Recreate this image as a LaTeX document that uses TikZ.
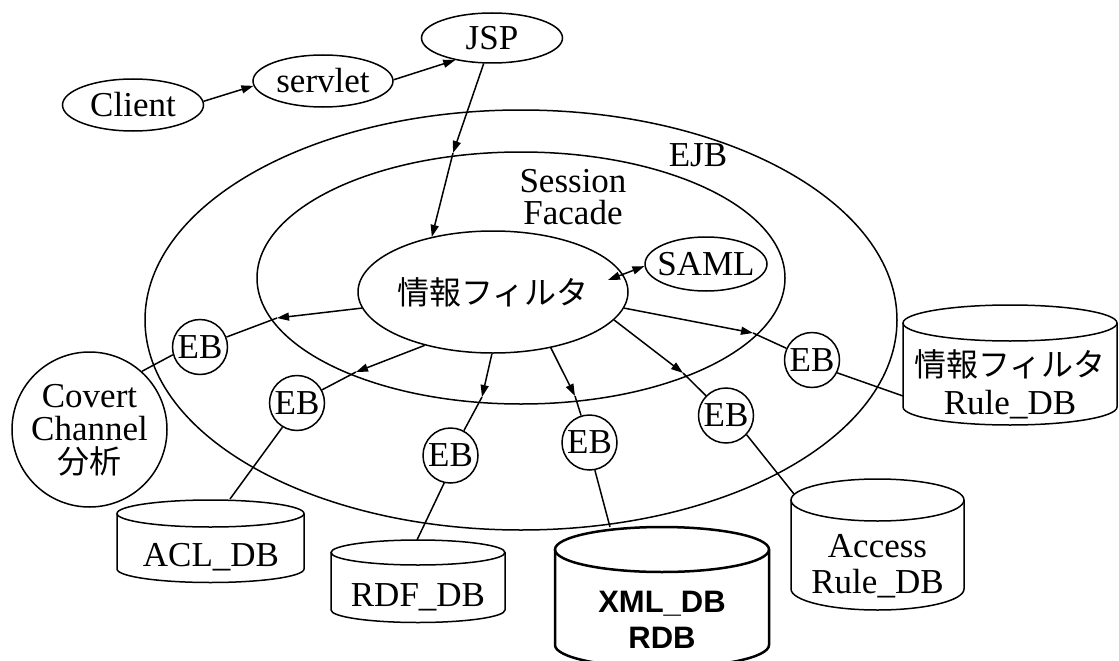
\documentclass[tikz,border=0pt]{standalone}
\usepackage{fontspec}
\setmainfont{Liberation Serif}
\newfontfamily\jpfont{Noto Sans CJK JP}
\newfontfamily\hvfont{Liberation Sans}
\usetikzlibrary{arrows.meta,shapes.geometric}

% cylinder outline: style, centre x, top-cap y, bottom-cap y, x radius, y radius
\newcommand\dbcylinder[6]{%
  \draw[#1] ({#2-#5},#3) -- ({#2-#5},#4)
    arc[start angle=180,end angle=360,x radius=#5pt,y radius=#6pt] -- ({#2+#5},#3);
  \draw[#1] (#2,#3) ellipse[x radius=#5pt,y radius=#6pt];}

\begin{document}
\begin{tikzpicture}[x=1pt,y=1pt,
  every node/.style={inner sep=0pt,font=\fontsize{35}{36}\selectfont},
  oval/.style={draw,ellipse,line width=1.5pt,inner sep=0pt},
  bean/.style={draw,circle,line width=1.5pt,minimum size=55pt,inner sep=0pt},
  wire/.style={line width=1.5pt},
  arr/.style={wire,-{Triangle[length=12pt,width=8pt]}},
  dblarr/.style={wire,{Triangle[length=12pt,width=8pt]}-{Triangle[length=12pt,width=8pt]}},
  dbline/.style={line width=1.5pt},
  dbthick/.style={line width=2.5pt},
]
\useasboundingbox (0,0) rectangle (1119,-661);

% containers
\node[oval,minimum width=752pt,minimum height=420pt] (ejb) at (521,-320) {};
\node[oval,minimum width=528pt,minimum height=252pt] (facade) at (521,-278) {};
\node (ejblabel) at (698,-155) {EJB};
\node[align=center,font=\fontsize{35}{32}\selectfont] (facadelabel) at (573,-197) {Session\\Facade};

% front end chain
\node[oval,minimum width=141pt,minimum height=52pt] (client) at (133,-105) {\makebox[0pt]{Client}};
\node[oval,minimum width=140pt,minimum height=52pt] (servlet) at (323,-81) {\makebox[0pt]{servlet}};
\node[oval,minimum width=141pt,minimum height=50pt] (jsp) at (492,-38) {\makebox[0pt]{JSP}};

% filter and SAML
\node[oval,minimum width=270pt,minimum height=122pt] (info) at (493,-292)
  {\makebox[0pt]{\jpfont\fontsize{32}{34}\selectfont 情報フィルタ}};
\node[oval,minimum width=122pt,minimum height=54pt] (saml) at (706,-264) {\makebox[0pt]{SAML}};

% entity beans
\node[bean] (eb1) at (200,-347) {EB};
\node[bean] (eb2) at (297,-403) {EB};
\node[bean] (eb3) at (450.5,-455.5) {EB};
\node[bean] (eb4) at (589.5,-442.5) {EB};
\node[bean] (eb5) at (726,-415.5) {EB};
\node[bean] (eb6) at (812,-360) {EB};

% covert channel analysis
\node[draw,circle,line width=1.5pt,minimum size=155pt] (covert) at (89.5,-429.5) {};
\node[align=center,font=\fontsize{35}{33}\selectfont] (covertlabel) at (89.5,-430)
  {Covert\\Channel\\{\jpfont\fontsize{32}{33}\selectfont 分析}};

% databases
\dbcylinder{dbline}{210.5}{-513.5}{-569}{93.5}{13.5}
\dbcylinder{dbline}{418}{-552.5}{-610}{87}{12.5}
\dbcylinder{dbthick}{662}{-549.5}{-645}{107}{22.5}
\dbcylinder{dbline}{877.5}{-500}{-589}{86.5}{21}
\dbcylinder{dbline}{1010}{-323}{-407}{107}{18}

\node (acl) at (211,-557.5) {ACL\_DB};
\node (rdf) at (418,-597.5) {RDF\_DB};
\node[align=center,font=\fontsize{31}{36}\selectfont\hvfont\bfseries] (xml) at (662,-620) {XML\_DB\\RDB};
\node[align=center] (access) at (877.5,-566) {Access\\Rule\_DB};
\node[align=center,font=\fontsize{35}{38}\selectfont] (rule) at (1010,-384)
  {{\jpfont\fontsize{32}{38}\selectfont 情報フィルタ}\\Rule\_DB};

% connector bends and cylinder attachment points
\coordinate (t0) at (453,-153);
\coordinate (t1) at (277,-318);
\coordinate (t2) at (356,-372);
\coordinate (t3) at (482,-397);
\coordinate (t4) at (575,-396);
\coordinate (t5) at (683,-373);
\coordinate (t6) at (753,-333);
\coordinate (samltip) at (608,-280);
\coordinate (acltop) at (230,-499);
\coordinate (rdftop) at (417,-540);
\coordinate (xmltop) at (610,-527);
\coordinate (accesstop) at (794,-494);
\coordinate (rulefront) at (903,-396);

% request flow
\draw[arr] (client.3) -- (servlet.184);
\draw[arr] (servlet.1) -- (jsp.211);
\draw[arr] (jsp.252) -- (t0);
\draw[arr] (t0) -- (info.138);
\draw[dblarr] (samltip) -- (saml.182);

% filter to entity beans
\draw[arr] (info.187) -- (t1); \draw[wire] (t1) -- (eb1);
\draw[arr] (info.218) -- (t2); \draw[wire] (t2) -- (eb2);
\draw[arr] (info.269) -- (t3); \draw[wire] (t3) -- (eb3);
\draw[arr] (info.316) -- (t4); \draw[wire] (t4) -- (eb4);
\draw[arr] (info.347.5) -- (t5); \draw[wire] (t5) -- (eb5);
\draw[arr] (info.353.5) -- (t6); \draw[wire] (t6) -- (eb6);

% entity beans to stores
\draw[wire] (eb1.196) -- (covert.48);
\draw[wire] (eb2.239) -- (acltop);
\draw[wire] (eb3.257) -- (rdftop);
\draw[wire] (eb4.281) -- (xmltop);
\draw[wire] (eb5.317) -- (accesstop);
\draw[wire] (eb6.333) -- (rulefront);
\end{tikzpicture}
\end{document}
